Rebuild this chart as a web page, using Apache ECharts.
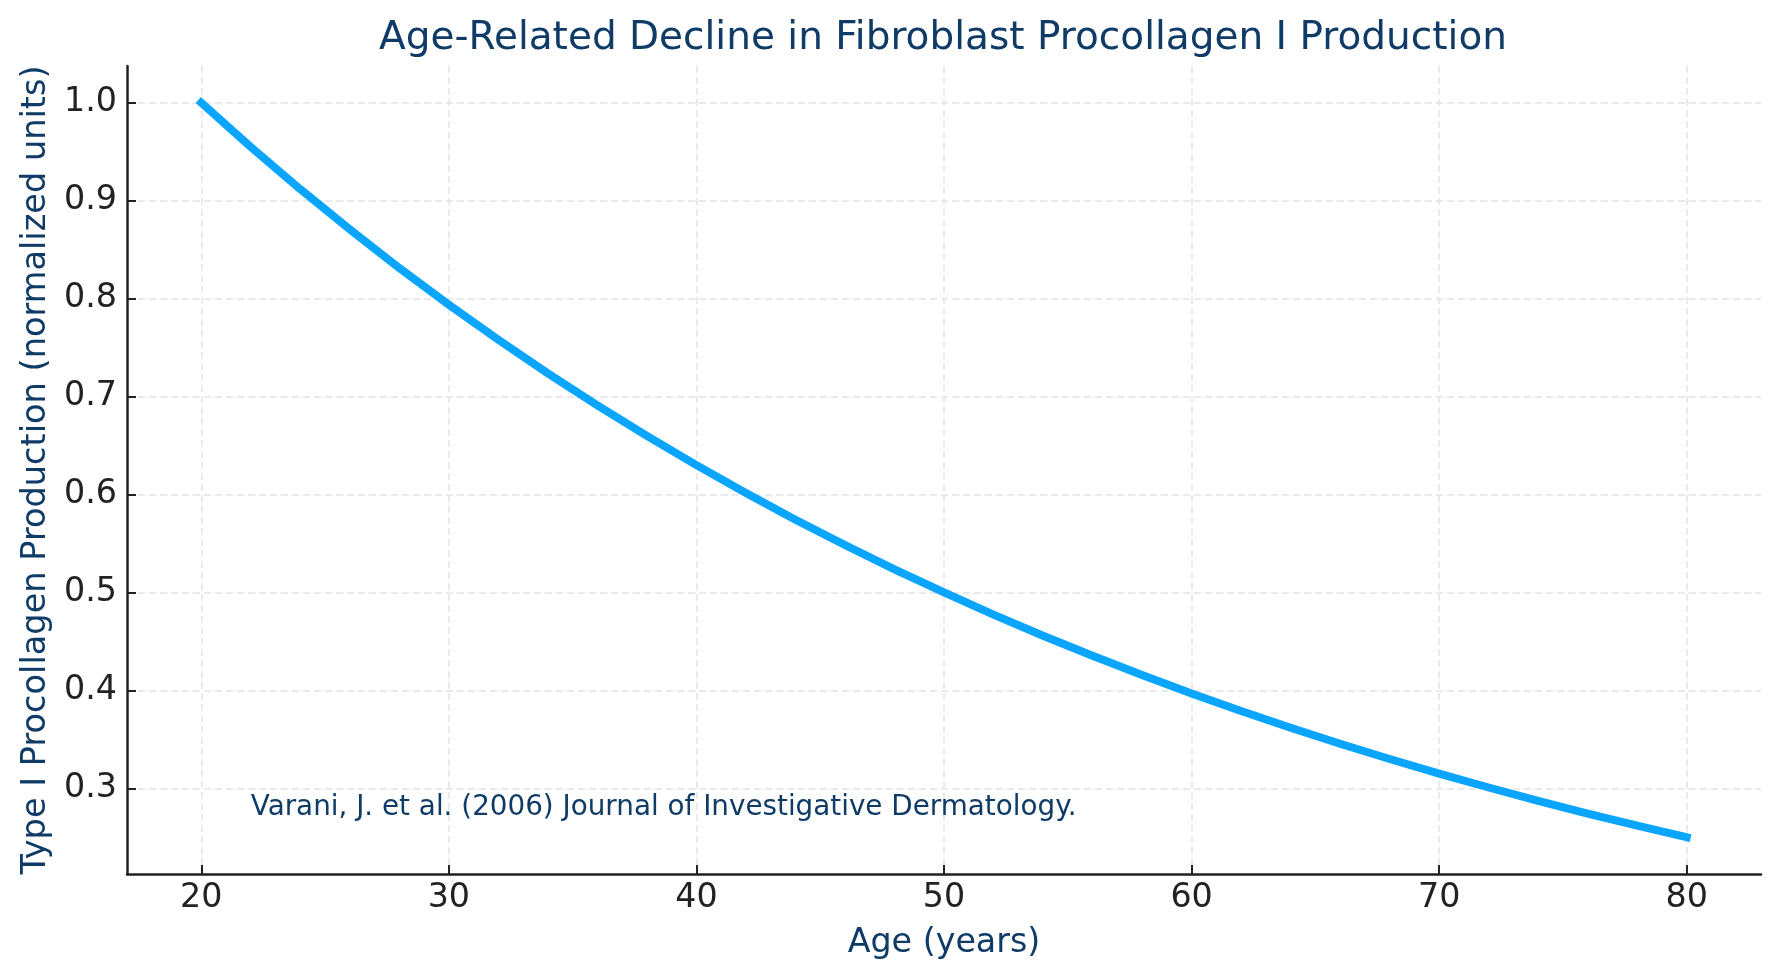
<!DOCTYPE html>
<html>
<head>
<meta charset="utf-8">
<script src="https://cdn.jsdelivr.net/npm/echarts@6/dist/echarts.min.js"></script>
<style>
html,body{margin:0;padding:0;background:#fff;}
#chart{width:1780px;height:980px;}
</style>
</head>
<body>
<div id="chart"></div>
<script>
// Data
const ages = [20, 22, 24, 26, 28, 30, 32, 34, 36, 38, 40, 42, 44, 46, 48, 50,
              52, 54, 56, 58, 60, 62, 64, 66, 68, 70, 72, 74, 76, 78, 80];
const procollagen = [1.0000, 0.9548, 0.9117, 0.8706, 0.8312, 0.7937, 0.7579, 0.7236, 0.6910, 0.6598,
                     0.6300, 0.6015, 0.5743, 0.5484, 0.5236, 0.5000, 0.4774, 0.4558, 0.4353, 0.4156,
                     0.3969, 0.3789, 0.3618, 0.3455, 0.3299, 0.3150, 0.3008, 0.2872, 0.2742, 0.2618, 0.2500];
const xTicks = [20, 30, 40, 50, 60, 70, 80];
const yTicks = [0.3, 0.4, 0.5, 0.6, 0.7, 0.8, 0.9, 1.0];
const titleText = 'Age-Related Decline in Fibroblast Procollagen I Production';
const xName = 'Age (years)';
const yName = 'Type I Procollagen Production (normalized units)';
const noteText = 'Varani, J. et al. (2006) Journal of Investigative Dermatology.';
const notePos = [22, 0.27];

const FONT = 'DejaVu Sans';
const NAVY = '#0f3b66';
const INK = '#222222';

const chart = echarts.init(document.getElementById('chart'), null, {renderer: 'canvas'});

const gridLine = {show: true, lineStyle: {color: '#e3e3e3', width: 1.5, type: [7, 4]}};

const option = {
  backgroundColor: '#ffffff',
  animation: false,
  title: {
    text: titleText,
    left: 943,
    top: 19,
    padding: 0,
    textAlign: 'center',
    textStyle: {fontFamily: FONT, fontSize: 39, fontWeight: 'normal', color: NAVY}
  },
  grid: {left: 127, right: 19, top: 66, bottom: 106, containLabel: false},
  xAxis: {
    type: 'value',
    min: 17,
    max: 83,
    name: xName,
    nameLocation: 'middle',
    nameGap: 53,
    nameTextStyle: {fontFamily: FONT, fontSize: 33.3, color: NAVY},
    axisLine: {show: true, onZero: false, lineStyle: {color: INK, width: 2.5}},
    axisTick: {show: true, inside: true, length: 9, lineStyle: {color: INK, width: 2}, customValues: xTicks},
    axisLabel: {show: true, margin: 8, fontFamily: FONT, fontSize: 33.3, color: INK, customValues: xTicks,
      formatter: v => String(v)},
    splitLine: gridLine
  },
  yAxis: {
    type: 'value',
    min: 0.2125,
    max: 1.0375,
    name: yName,
    nameLocation: 'middle',
    nameGap: 72,
    nameTextStyle: {fontFamily: FONT, fontSize: 33.6, color: NAVY},
    axisLine: {show: true, onZero: false, lineStyle: {color: INK, width: 2.5}},
    axisTick: {show: true, inside: true, length: 9, lineStyle: {color: INK, width: 2}, customValues: yTicks},
    axisLabel: {show: true, margin: 10, fontFamily: FONT, fontSize: 33.3, color: INK, customValues: yTicks,
      formatter: v => Number(v).toFixed(1)},
    splitLine: gridLine
  },
  series: [{
    type: 'line',
    data: ages.map((a, i) => [a, procollagen[i]]),
    smooth: false,
    showSymbol: false,
    symbol: 'none',
    lineStyle: {color: '#0aa5ff', width: 8, cap: 'square', join: 'round'},
    z: 3
  }]
};
chart.setOption(option);

const p = chart.convertToPixel({gridIndex: 0}, notePos);
chart.setOption({
  graphic: [{
    type: 'text',
    x: p[0],
    y: p[1] - 9.6,
    z: 10,
    style: {
      text: noteText,
      fontFamily: FONT,
      fontSize: 27.8,
      fill: NAVY,
      textAlign: 'left',
      textVerticalAlign: 'middle'
    }
  }]
});
</script>
</body>
</html>
